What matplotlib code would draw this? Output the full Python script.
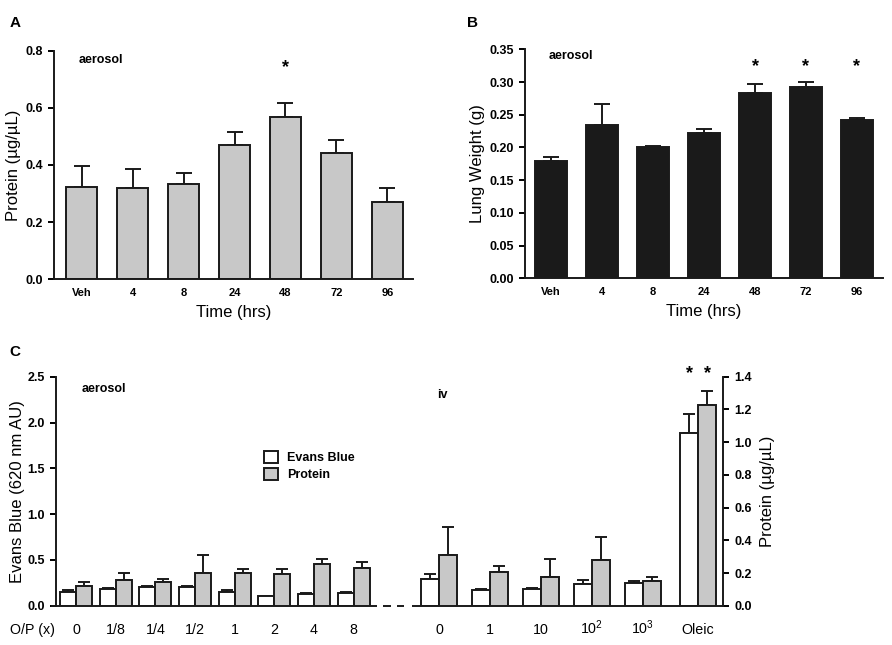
import numpy as np
import matplotlib.pyplot as plt
from matplotlib.patches import Patch

plt.rcParams['font.family'] = ['Liberation Sans', 'DejaVu Sans']
plt.rcParams['mathtext.default'] = 'regular'

# panel A / B data
times = ["Veh", "4", "8", "24", "48", "72", "96"]
protein_a = [0.322, 0.321, 0.332, 0.471, 0.569, 0.441, 0.269]
protein_a_err = [0.076, 0.064, 0.041, 0.044, 0.047, 0.048, 0.049]
lung_wt = [0.179, 0.234, 0.201, 0.222, 0.283, 0.292, 0.242]
lung_wt_err = [0.007, 0.032, 0.002, 0.006, 0.014, 0.008, 0.003]

# panel C data
aer_labels = ["0", "1/8", "1/4", "1/2", "1", "2", "4", "8"]
iv_labels = ["0", "1", "10", "10$^{2}$", "10$^{3}$", "Oleic"]
evans_aer = [0.153, 0.186, 0.204, 0.204, 0.146, 0.102, 0.131, 0.138]
evans_aer_err = [0.018, 0.007, 0.011, 0.014, 0.025, 0.007, 0.007, 0.011]
evans_iv = [0.287, 0.167, 0.178, 0.240, 0.251, 1.889]
evans_iv_err = [0.059, 0.011, 0.011, 0.037, 0.022, 0.203]
prot_aer = [0.122, 0.159, 0.143, 0.202, 0.202, 0.192, 0.253, 0.230]
prot_aer_err = [0.021, 0.039, 0.020, 0.110, 0.020, 0.030, 0.034, 0.039]
prot_iv = [0.310, 0.204, 0.177, 0.277, 0.149, 1.227]
prot_iv_err = [0.169, 0.041, 0.106, 0.143, 0.028, 0.085]

EDGE = "#1a1a1a"
GRAY = "#c8c8c8"
LW = 1.4


def style_axis(ax):
    for s in ["top", "right"]:
        ax.spines[s].set_visible(False)
    for s in ["left", "bottom"]:
        ax.spines[s].set_linewidth(LW)
        ax.spines[s].set_color(EDGE)
    ax.tick_params(axis="y", direction="out", length=4, width=LW, labelsize=9, pad=4)
    ax.tick_params(axis="x", length=0, labelsize=8, pad=6)
    for t in ax.get_yticklabels() + ax.get_xticklabels():
        t.set_fontweight("bold")


def up_err(ax, x, y, e, cap):
    ax.errorbar(x, y, yerr=[np.zeros(len(e)), e], fmt="none", ecolor=EDGE,
                elinewidth=LW, capsize=cap, capthick=LW, zorder=1)


fig = plt.figure(figsize=(8.92, 6.45), dpi=100)

# ---- A
axA = fig.add_axes([0.0605, 0.567, 0.4025, 0.3544])
xa = np.arange(len(times))
up_err(axA, xa, protein_a, protein_a_err, 6)
axA.bar(xa, protein_a, width=0.61, color=GRAY, edgecolor=EDGE, linewidth=LW, zorder=2)
axA.set_xlim(-0.54, 6.5)
axA.set_ylim(0, 0.8)
axA.set_yticks([0, 0.2, 0.4, 0.6, 0.8])
axA.set_xticks(xa)
axA.set_xticklabels(times)
style_axis(axA)
axA.set_ylabel("Protein (\u00b5g/\u00b5L)", fontsize=12, labelpad=3)
axA.set_xlabel("Time (hrs)", fontsize=12, labelpad=5)
axA.text(0.07, 0.96, "aerosol", transform=axA.transAxes, fontsize=9,
         fontweight="bold", va="center")
axA.text(4, 0.74, "*", ha="center", va="center", fontsize=13, fontweight="bold")
fig.text(0.011, 0.965, "A", fontsize=11, fontweight="bold", va="center")

# ---- B
axB = fig.add_axes([0.5886, 0.5685, 0.4013, 0.355])
axB.bar(xa, lung_wt, width=0.63, color=EDGE, edgecolor=EDGE, linewidth=LW, zorder=2)
up_err(axB, xa, lung_wt, lung_wt_err, 6)
axB.set_xlim(-0.51, 6.51)
axB.set_ylim(0, 0.35)
axB.set_yticks(np.arange(0, 0.351, 0.05))
axB.set_yticklabels([f"{v:.2f}" for v in np.arange(0, 0.351, 0.05)])
axB.set_xticks(xa)
axB.set_xticklabels(times)
style_axis(axB)
axB.set_ylabel("Lung Weight (g)", fontsize=12, labelpad=3)
axB.set_xlabel("Time (hrs)", fontsize=12, labelpad=5)
axB.text(0.067, 0.97, "aerosol", transform=axB.transAxes, fontsize=9,
         fontweight="bold", va="center")
for i in [4, 5, 6]:
    axB.text(i, 0.323, "*", ha="center", va="center", fontsize=13, fontweight="bold")
fig.text(0.524, 0.965, "B", fontsize=11, fontweight="bold", va="center")

# ---- C
axC = fig.add_axes([0.0628, 0.0609, 0.7478, 0.355])
axC2 = axC.twinx()
aer_pos = 76 + 39.67 * np.arange(len(aer_labels))
iv_pos = np.append(439 + 51 * np.arange(len(iv_labels) - 1), 698)
w_aer, w_iv = 16, 18

up_err(axC, aer_pos - w_aer / 2, evans_aer, evans_aer_err, 4.3)
up_err(axC, iv_pos - w_iv / 2, evans_iv, evans_iv_err, 4.3)
axC.bar(aer_pos - w_aer / 2, evans_aer, width=w_aer, color="white",
        edgecolor=EDGE, linewidth=LW, zorder=2)
axC.bar(iv_pos - w_iv / 2, evans_iv, width=w_iv, color="white",
        edgecolor=EDGE, linewidth=LW, zorder=2)
up_err(axC2, aer_pos + w_aer / 2, prot_aer, prot_aer_err, 4.3)
up_err(axC2, iv_pos + w_iv / 2, prot_iv, prot_iv_err, 4.3)
axC2.bar(aer_pos + w_aer / 2, prot_aer, width=w_aer, color=GRAY,
         edgecolor=EDGE, linewidth=LW, zorder=2)
axC2.bar(iv_pos + w_iv / 2, prot_iv, width=w_iv, color=GRAY,
         edgecolor=EDGE, linewidth=LW, zorder=2)

axC.set_xlim(56, 723)
axC.set_ylim(0, 2.5)
axC2.set_ylim(0, 1.4)
axC.set_yticks(np.arange(0, 2.51, 0.5))
axC.set_yticklabels([f"{v:.1f}" for v in np.arange(0, 2.51, 0.5)])
axC2.set_yticks(np.arange(0, 1.41, 0.2))
axC2.set_yticklabels([f"{v:.1f}" for v in np.arange(0, 1.41, 0.2)])
axC.set_xticks(np.concatenate([aer_pos, iv_pos]))
axC.set_xticklabels(aer_labels + iv_labels)

style_axis(axC)
axC.spines["bottom"].set_visible(False)
axC.tick_params(axis="x", labelsize=10.3, pad=20.5)
for t in axC.get_xticklabels():
    t.set_fontweight("normal")
    t.set_verticalalignment("baseline")
for s in ["top", "left", "bottom"]:
    axC2.spines[s].set_visible(False)
axC2.spines["right"].set_linewidth(LW)
axC2.spines["right"].set_color(EDGE)
axC2.tick_params(axis="y", direction="out", length=4, width=LW, labelsize=9, pad=4)
for t in axC2.get_yticklabels():
    t.set_fontweight("bold")

# broken baseline
kw = dict(color=EDGE, lw=LW, clip_on=False, solid_capstyle="butt", zorder=3)
axC.plot([51, 377], [0, 0], **kw)
axC.plot([383, 391], [0, 0], **kw)
axC.plot([397, 404], [0, 0], **kw)
axC.plot([412, 723], [0, 0], **kw)

axC.set_ylabel("Evans Blue (620 nm AU)", fontsize=12, labelpad=2)
axC2.set_ylabel("Protein (\u00b5g/\u00b5L)", fontsize=12, labelpad=6)
axC.text(0.039, 0.946, "aerosol", transform=axC.transAxes, fontsize=9,
         fontweight="bold", va="center")
axC.text(0.571, 0.92, "iv", transform=axC.transAxes, fontsize=9,
         fontweight="bold", va="center")
for xp in [iv_pos[-1] - w_iv / 2, iv_pos[-1] + w_iv / 2]:
    axC.text(xp, 2.53, "*", ha="center", va="center", fontsize=13,
             fontweight="bold", clip_on=False)
fig.text(0.011, 1 - 634 / 645, "O/P (x)", fontsize=10.3, va="baseline")
fig.text(0.011, 1 - 352 / 645, "C", fontsize=11, fontweight="bold", va="center")

handles = [Patch(facecolor="white", edgecolor=EDGE, linewidth=LW),
           Patch(facecolor=GRAY, edgecolor=EDGE, linewidth=LW)]
axC2.legend(handles, ["Evans Blue", "Protein"], loc="upper left",
            bbox_to_anchor=(0.312, 0.676), frameon=False, borderpad=0,
            handlelength=1.1, handleheight=1.1, handletextpad=0.75,
            labelspacing=0.3, prop={"size": 9, "weight": "bold"},
            borderaxespad=0)

fig.savefig("out.png", dpi=100)
